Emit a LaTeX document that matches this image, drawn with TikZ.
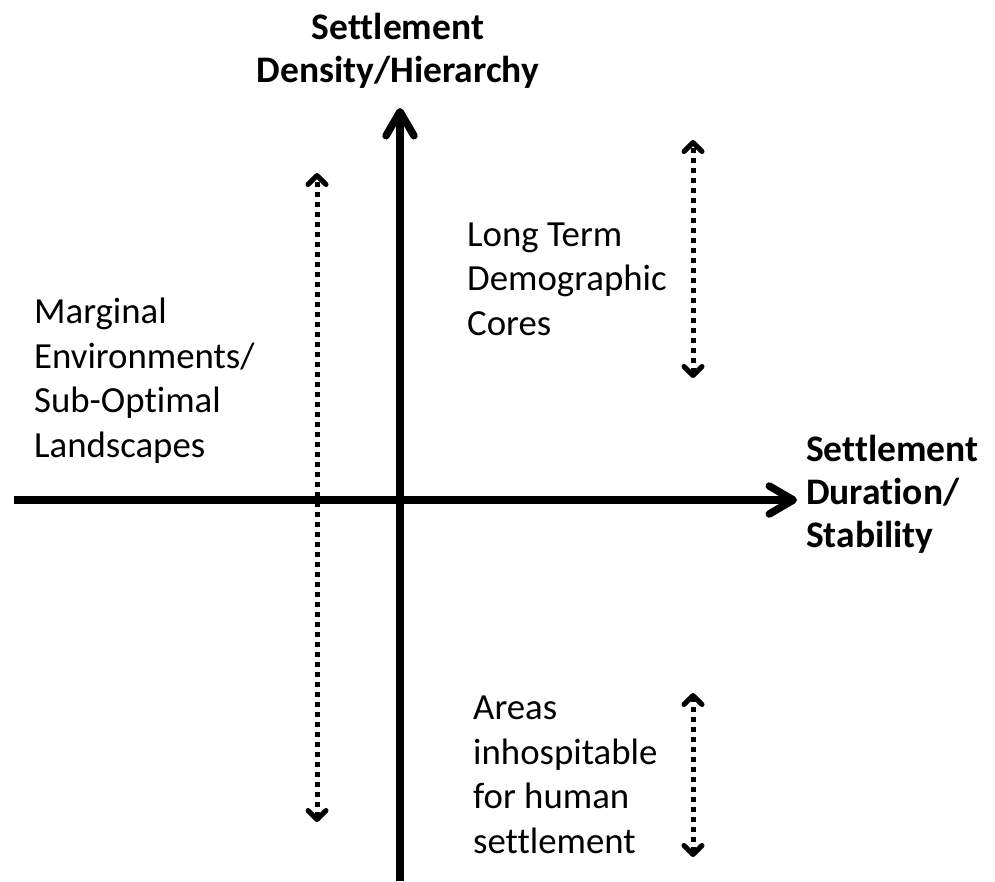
\documentclass[tikz,border=0pt]{standalone}
\usepackage{fontspec}
\setmainfont{Carlito}[Ligatures=NoCommon]
\usetikzlibrary{arrows.meta, positioning}

\begin{document}
\begin{tikzpicture}[x=1pt, y=-1pt,
    axis/.style={line width=7.5pt, -{Straight Barb[length=24pt, width=28pt, line cap=round, line join=round]}},
    spanarrow/.style={line width=5pt, dash pattern=on 5pt off 5pt,
        {Straight Barb[length=9pt, width=18pt, line cap=round, line join=round]}-{Straight Barb[length=9pt, width=18pt, line cap=round, line join=round]}},
    lbl/.style={inner sep=0pt, anchor=base west, align=left, font=\fontsize{36.8}{44.5}\selectfont},
    axlbl/.style={inner sep=0pt, align=center, font=\fontsize{37.5}{43}\selectfont\bfseries}]
    \useasboundingbox (0,0) rectangle (995,881);

    % axes
    \coordinate (ybot) at (400,881);
    \coordinate (ytop) at (400,108);
    \coordinate (xleft) at (14,500);
    \coordinate (xright) at (797,500);
    \draw[axis] (ybot) -- (ytop);
    \draw[axis] (xleft) -- (xright);

    % axis labels
    \node[axlbl, anchor=base] (ylabel) at (398,82) {Settlement\\Density/Hierarchy};
    \node[axlbl, anchor=base west, align=left] (xlabel) at (806,547) {Settlement\\Duration/\\Stability};

    % ranges
    \coordinate (margtop) at (317,173);
    \coordinate (margbot) at (317,822);
    \coordinate (coretop) at (693,140);
    \coordinate (corebot) at (693,378);
    \coordinate (areatop) at (693,693);
    \coordinate (areabot) at (693,857);
    \draw[spanarrow] (margbot) -- (margtop);
    \draw[spanarrow] (corebot) -- (coretop);
    \draw[spanarrow] (areabot) -- (areatop);

    % region labels
    \node[lbl] (marginal) at (34,457) {Marginal\\Environments/\\Sub-Optimal\\Landscapes};
    \node[lbl] (cores) at (467,335) {Long Term\\Demographic\\Cores};
    \node[lbl] (areas) at (473,853) {Areas\\inhospitable\\for human\\settlement};
\end{tikzpicture}
\end{document}
